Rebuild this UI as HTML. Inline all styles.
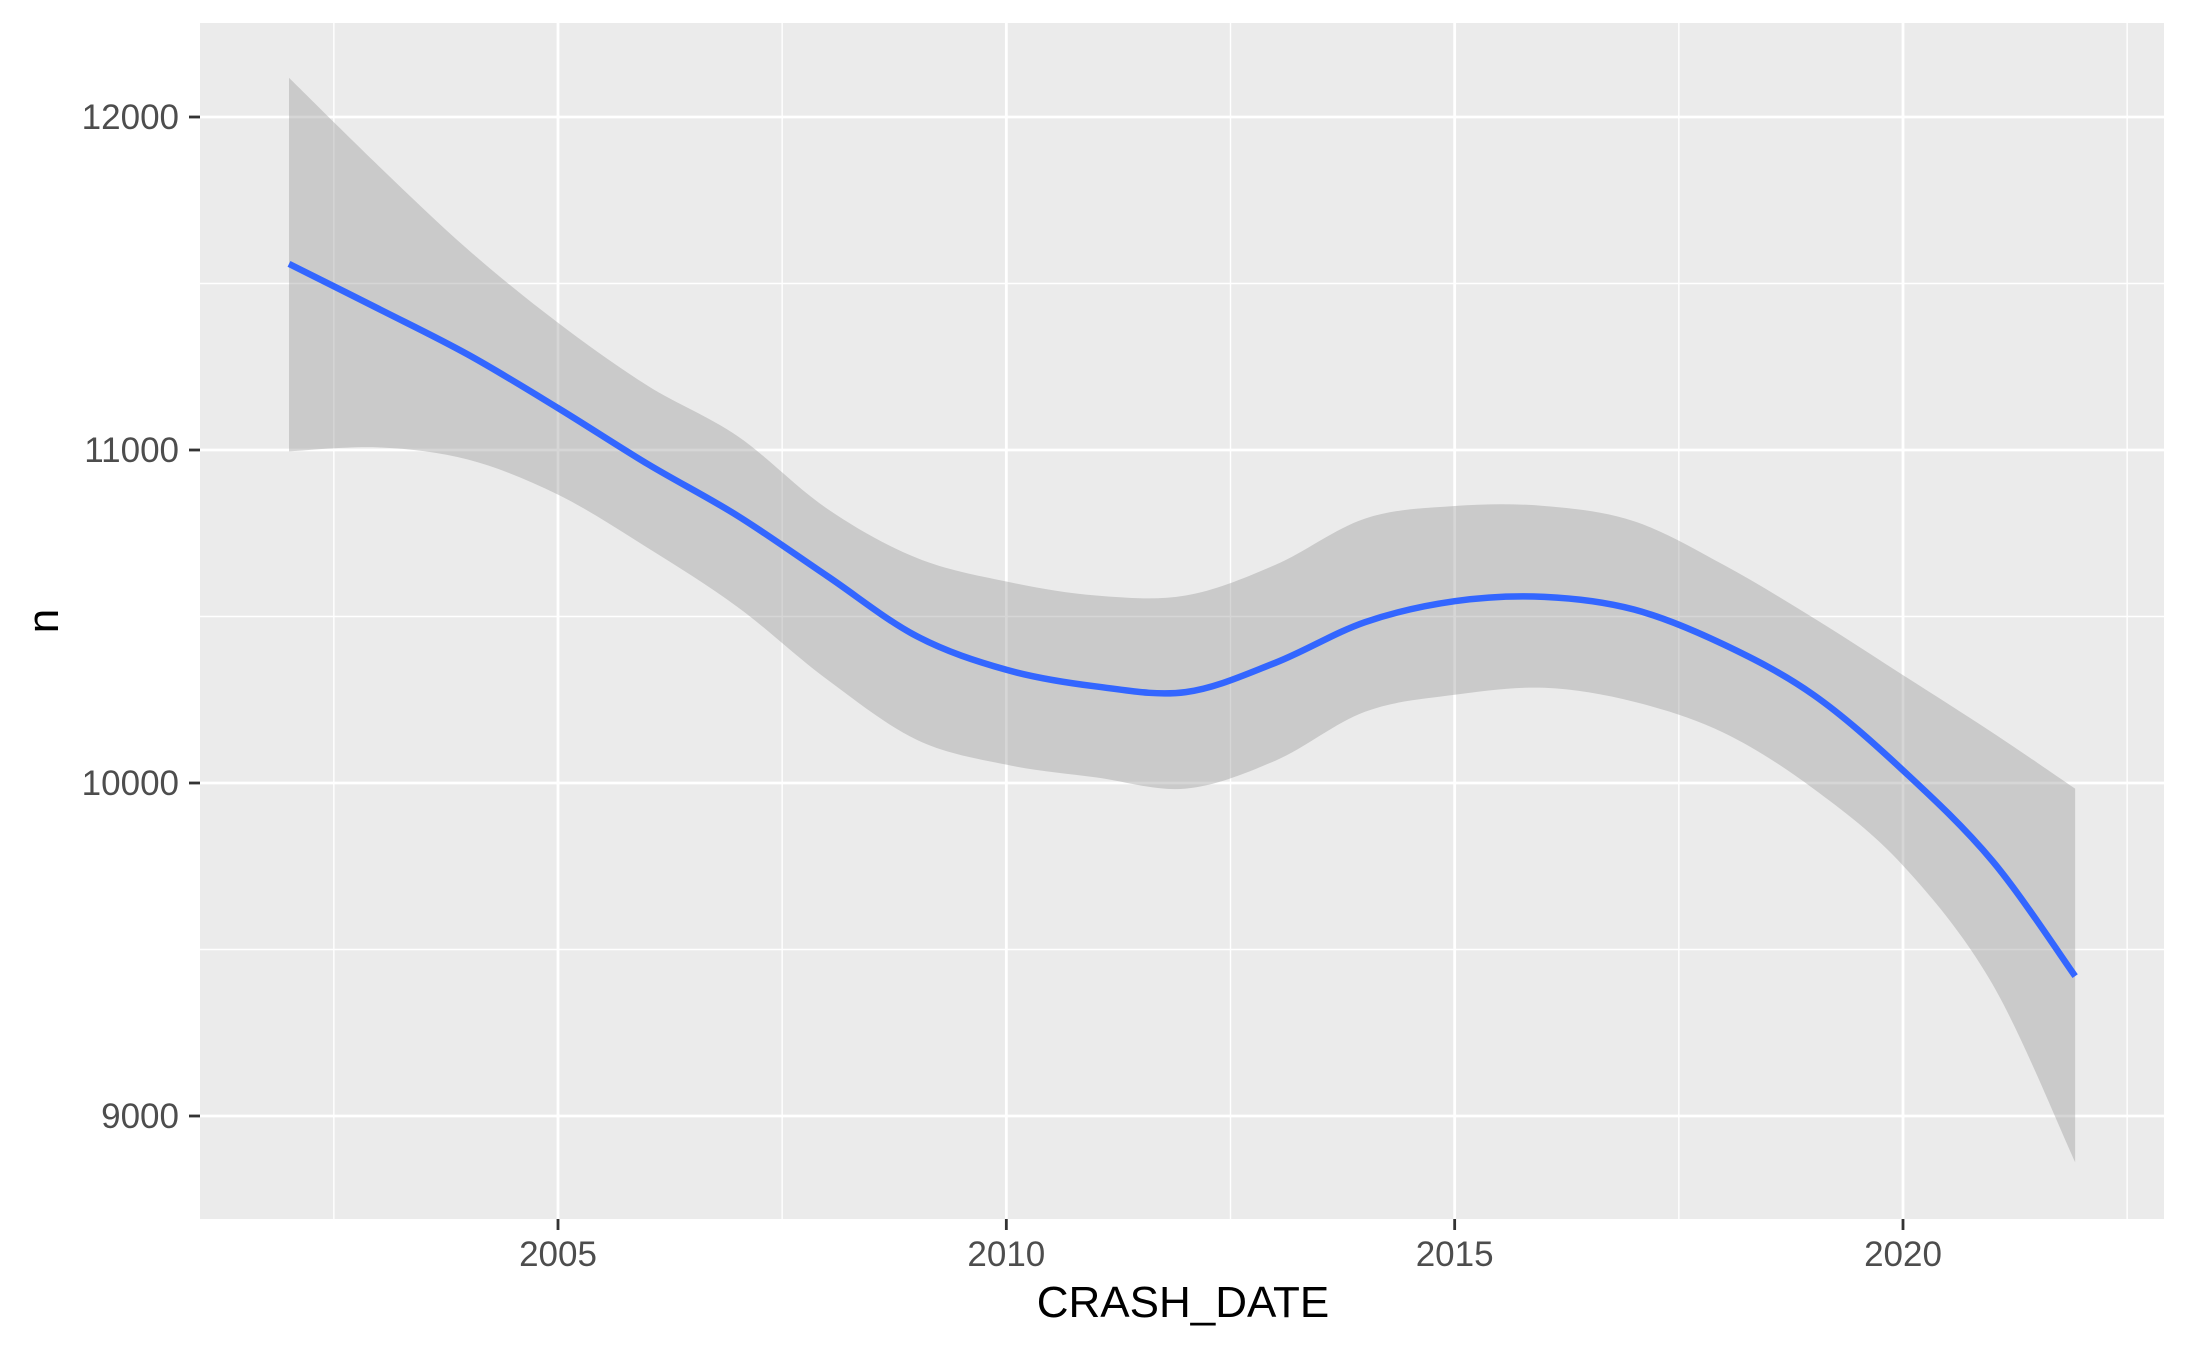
<!DOCTYPE html>
<html><head><meta charset="utf-8"><style>
html,body{margin:0;padding:0;background:#fff;}
svg{display:block;font-family:"Liberation Sans",Arial,sans-serif;}
</style></head><body>
<svg id="chart" width="2187" height="1351" viewBox="0 0 2187 1351" xmlns="http://www.w3.org/2000/svg">
<rect x="200" y="23" width="1964" height="1196" fill="#ebebeb"/>
<g id="grid"></g>
<g id="marks"></g>
<g id="axes"></g>
<text x="1183" y="1317" font-size="44" text-anchor="middle" fill="#000">CRASH_DATE</text>
<text transform="translate(58,621) rotate(-90)" font-size="44" text-anchor="middle" fill="#000">n</text>
</svg>
<script>
const years = [2002,2003,2004,2005,2006,2007,2008,2009,2010,2011,2012,2013,2014,2015,2016,2017,2018,2019,2020,2021,2021.92];
const fitValues = [11559,11424,11286,11126,10958,10803,10622,10441,10340,10290,10273,10361,10483,10546,10559,10521,10416,10265,10038,9765,9420];
const upperValues = [12118,11853,11601,11382,11193,11042,10824,10676,10605,10563,10563,10655,10794,10832,10832,10786,10655,10496,10324,10151,9983];
const lowerValues = [10996,11008,10971,10866,10706,10529,10311,10130,10055,10017,9983,10067,10214,10265,10286,10244,10151,9983,9752,9395,8861];
const xTicks = [2005,2010,2015,2020];
const xMinor = [2002.5,2007.5,2012.5,2017.5,2022.5];
const yTicks = [9000,10000,11000,12000];
const yMinor = [9500,10500,11500];

const X0=200,X1=2164,Y0=23,Y1=1219;
function sx(v){return 558 + (v-2005)*(1903-558)/15;}
function sy(v){return 117 + (12000-v)*0.333;}
const NS='http://www.w3.org/2000/svg';
function mk(tag,attrs,parent){const e=document.createElementNS(NS,tag);for(const k in attrs)e.setAttribute(k,attrs[k]);parent.appendChild(e);return e;}
const grid=document.getElementById('grid'),marks=document.getElementById('marks'),axes=document.getElementById('axes');
yMinor.forEach(v=>{const l=mk('line',{x1:X0,x2:X1,y1:sy(v),y2:sy(v),stroke:'#fff','stroke-width':1.4},grid);

});
xMinor.forEach(v=>{const l=mk('line',{x1:sx(v),x2:sx(v),y1:Y0,y2:Y1,stroke:'#fff','stroke-width':1.4},grid);

});
yTicks.forEach(v=>{const l=mk('line',{x1:X0,x2:X1,y1:sy(v),y2:sy(v),stroke:'#fff','stroke-width':2.8},grid);


const t=mk('line',{x1:189,x2:X0,y1:sy(v),y2:sy(v),stroke:'#333','stroke-width':2.8},axes);


const tx=mk('text',{x:179,y:sy(v)+12,'font-size':35,'text-anchor':'end',fill:'#4d4d4d'},axes);tx.textContent=v;

});
xTicks.forEach(v=>{const l=mk('line',{x1:sx(v),x2:sx(v),y1:Y0,y2:Y1,stroke:'#fff','stroke-width':2.8},grid);


const t=mk('line',{x1:sx(v),x2:sx(v),y1:Y1,y2:Y1+11,stroke:'#333','stroke-width':2.8},axes);


const tx=mk('text',{x:sx(v),y:1266,'font-size':35,'text-anchor':'middle',fill:'#4d4d4d'},axes);tx.textContent=v;

});
function smooth(pts){let d='M'+pts[0][0]+','+pts[0][1];
for(let i=0;i<pts.length-1;i++){const p0=pts[Math.max(0,i-1)],p1=pts[i],p2=pts[i+1],p3=pts[Math.min(pts.length-1,i+2)];
const c1=[p1[0]+(p2[0]-p0[0])/6,p1[1]+(p2[1]-p0[1])/6],c2=[p2[0]-(p3[0]-p1[0])/6,p2[1]-(p3[1]-p1[1])/6];
d+=' C'+c1[0]+','+c1[1]+' '+c2[0]+','+c2[1]+' '+p2[0]+','+p2[1];}return d;}
const up=years.map((y,i)=>[sx(y),sy(upperValues[i])]);
const lo=years.map((y,i)=>[sx(y),sy(lowerValues[i])]).reverse();
const bandD=smooth(up)+' L'+lo[0][0]+','+lo[0][1]+smooth(lo).replace(/^M[^ ]+/,'')+' Z';
const band=mk('path',{d:bandD,fill:'#999','fill-opacity':0.4,stroke:'none'},marks);


const fit=mk('path',{d:smooth(years.map((y,i)=>[sx(y),sy(fitValues[i])])),fill:'none',stroke:'#3366ff','stroke-width':6.5},marks);


</script>
</body></html>
